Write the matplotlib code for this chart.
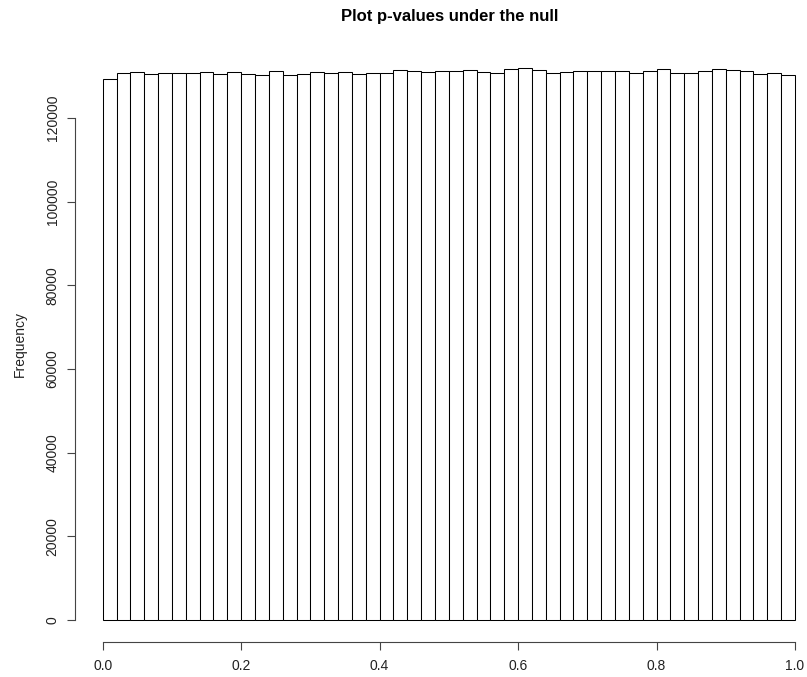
import numpy as np
import matplotlib
matplotlib.use("Agg")
import matplotlib.pyplot as plt

# histogram of p-values, 50 bins of width 0.02
bin_edges = np.round(np.arange(0, 1.0001, 0.02), 2)
counts = [129492, 130928, 131167, 130609, 130928, 130848, 130768, 131167, 130689, 131167,
          130689, 130449, 131327, 130449, 130689, 131088, 130928, 131088, 130689, 130928,
          130848, 131646, 131407, 131088, 131327, 131407, 131646, 131167, 130928, 131726,
          131965, 131646, 130928, 131088, 131327, 131327, 131327, 131327, 130768, 131327,
          131806, 130928, 130928, 131327, 131806, 131567, 131327, 130529, 130928, 130290]
yticks = [0, 20000, 40000, 60000, 80000, 100000, 120000]
xticks = [0.0, 0.2, 0.4, 0.6, 0.8, 1.0]

plt.rcParams['font.family'] = ['Liberation Sans', 'DejaVu Sans']

W, H = 807, 677
fig = plt.figure(figsize=(W / 100, H / 100), dpi=100)
# plot region in pixels: left 75, top 46, bottom 642, right runs off the image
ax = fig.add_axes([75 / W, (H - 642) / H, (W - 75) / W, (642 - 46) / H])

ax.bar(bin_edges[:-1], counts, width=0.02, align='edge',
       facecolor='white', edgecolor='black', linewidth=0.75)

ax.set_xlim(-0.04, (W - 103) / 692)
ax.set_ylim(-5280, 137280)

for s in ['top', 'right']:
    ax.spines[s].set_visible(False)
ax.spines['left'].set_bounds(0, 120000)
ax.spines['bottom'].set_bounds(0, 1)
for s in ['left', 'bottom']:
    ax.spines[s].set_linewidth(0.8)
    ax.spines[s].set_color('#444444')

ax.set_yticks(yticks)
ax.set_yticklabels([str(v) for v in yticks], rotation=90, va='center')
ax.set_xticks(xticks)
ax.set_xticklabels([f"{v:.1f}" for v in xticks])
ax.tick_params(axis='both', length=6, width=0.8, color='#444444',
               labelsize=10, labelcolor='#222222')
ax.tick_params(axis='y', pad=5)
ax.tick_params(axis='x', pad=6)

fig.text(450 / W, 1 - 17 / H, "Plot p-values under the null", ha='center', va='center',
         fontsize=12, fontweight='bold')
fig.text(20 / W, 1 - 344 / H, "Frequency", ha='center', va='center',
         rotation=90, fontsize=10, color='#222222')

fig.savefig("out.png", dpi=100)
